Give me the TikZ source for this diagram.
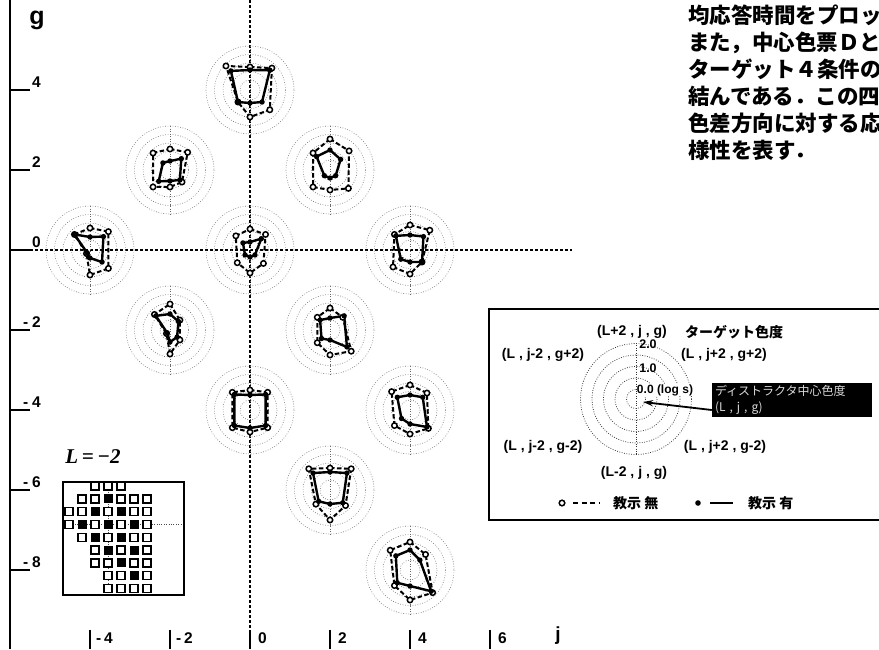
\documentclass[tikz,border=0pt]{standalone}
\usepackage{fontspec}
\setmainfont{Liberation Sans}
\newfontfamily\jp{Noto Sans CJK JP}
\newfontfamily\serifbi{Liberation Serif}
\usetikzlibrary{arrows.meta}
\makeatletter
\def\rline#1#2{\rline@i#1\relax{#2}}
\def\rline@i#1,#2,#3,#4,#5,#6\relax#7{%
  \draw[#7] (-90:#1) -- (-45:#2) -- (45:#3) -- (90:#4) -- (135:#5) -- (-135:#6) -- cycle;}
\def\rdots#1#2{\rdots@i#1\relax{#2}}
\def\rdots@i#1,#2,#3,#4,#5,#6\relax#7{%
  \foreach \a/\r in {-90/#1,-45/#2,45/#3,90/#4,135/#5,-135/#6} {\path[#7] (\a:\r) circle[radius=2.7];}}
\makeatother
\newcommand\radar[3]{%
\begin{scope}[shift={(#1)}]
  \foreach \rr in {10,18.5,27,35.5,44} \draw[ring] (0,0) circle[radius=\rr];
  \draw[ring] (0,-44) -- (0,44);
  \rline{#2}{dashpoly}
  \rline{#3}{solidpoly}
  \rdots{#2}{opendot}
  \rdots{#3}{filldot}
\end{scope}}
\begin{document}
\begin{tikzpicture}[x=1pt,y=-1pt,
  ring/.style={black!60, line width=0.6, dash pattern=on 0.7pt off 1.8pt},
  lring/.style={black!80, line width=0.75, dash pattern=on 0.8pt off 1.6pt},
  dashpoly/.style={line width=2, dash pattern=on 4.5pt off 2.5pt},
  solidpoly/.style={line width=2.4, line join=round},
  opendot/.style={draw=black, fill=white, line width=1.5},
  filldot/.style={fill=black},
  axisdot/.style={line width=1.3, dash pattern=on 2.5pt off 2.5pt},
  tick/.style={line width=2},
  axlbl/.style={font=\bfseries\fontsize{15.5}{15.5}\selectfont, inner sep=0, anchor=base west},
  lbl/.style={font=\bfseries\fontsize{14}{14}\selectfont, inner sep=0},
  jlbl/.style={font=\jp\bfseries\fontsize{14}{14}\selectfont, inner sep=0},
  para/.style={font=\jp\bfseries\fontsize{21.5}{21.5}\selectfont, inner sep=0, anchor=base west},
  sqopen/.style={draw, line width=1.4, fill=white},
  sqfill/.style={fill=black}
]
\useasboundingbox (0,0) rectangle (879,649);

% ---------- main axes ----------
\draw[line width=2] (10,0) -- (10,649);
\draw[axisdot] (250,0) -- (250,630);
\draw[axisdot] (10,250) -- (572,250);
\foreach \g in {4,2,0,-2,-4,-6,-8} \draw[tick] (10,{250-40*\g}) -- (30,{250-40*\g});
\node[font=\bfseries\fontsize{25}{25}\selectfont, inner sep=0] (glabel) at (37,20) {g};
\node[axlbl] (g4) at (32,87) {4};
\node[axlbl] (g2) at (32,167) {2};
\node[axlbl] (g0) at (32,247) {0};
\node[axlbl] (gm2) at (32,327) {\llap{-\hspace{4pt}}2};
\node[axlbl] (gm4) at (32,407) {\llap{-\hspace{4pt}}4};
\node[axlbl] (gm6) at (32,487) {\llap{-\hspace{4pt}}6};
\node[axlbl] (gm8) at (32,567) {\llap{-\hspace{4pt}}8};

\foreach \j in {-4,-2,0,2,4,6} \draw[tick] ({250+40*\j},630) -- ({250+40*\j},649);
\node[axlbl] (jm4) at (104,643) {\llap{-\hspace{3pt}}4};
\node[axlbl] (jm2) at (184,643) {\llap{-\hspace{3pt}}2};
\node[axlbl] (j0) at (258,643) {0};
\node[axlbl] (j2) at (338,643) {2};
\node[axlbl] (j4) at (418,643) {4};
\node[axlbl] (j6) at (498,643) {6};
\node[font=\bfseries\fontsize{19}{19}\selectfont, inner sep=0] (jlabel) at (558,636) {j};

% ---------- radar plots ----------
\radar{250,90}{23,31,28,27,17,34}{20,28,17,13,17,27}
\radar{170,170}{21,25,17,17,24,24}{9,16,14,11,16,10}
\radar{330,170}{31,27,26,20,24,24}{20,15,8,8,8,19}
\radar{90,250}{22,26,26,25,5,22}{13,19,17,8,4,22}
\radar{250,250}{21,22,19,23,18,20}{8,16,7,7,7,10}
\radar{410,250}{25,28,17,24,24,22}{15,19,17,12,13,20}
\radar{170,330}{26,14,14,24,5,22}{16,12,10,12,4,20}
\radar{330,330}{22,18,30,25,18,18}{12,20,24,10,12,14}
\radar{250,410}{20,25,25,22,25,25}{15,22,22,18,22,22}
\radar{410,410}{25,24,26,24,22,26}{15,18,24,14,12,18}
\radar{330,490}{22,30,22,30,20,30}{18,24,18,14,16,24}
\radar{410,570}{28,22,32,30,22,28}{20,14,30,16,18,20}

% ---------- inset L=-2 ----------
\node[font=\serifbi\bfseries\itshape\fontsize{21}{21}\selectfont, inner sep=0] (Llabel) at (93,457) {L\,=\,−2};
\draw[black!70, line width=0.6, dash pattern=on 0.8pt off 1.6pt] (108,482) -- (108,595);
\draw[black!70, line width=0.6, dash pattern=on 0.8pt off 1.6pt] (63,524) -- (184,524);
\foreach \c/\r in {3/1,4/1,5/1, 2/2,3/2,5/2,6/2,7/2, 1/3,2/3,4/3,6/3,7/3, 1/4,3/4,5/4,7/4,
  2/5,4/5,6/5,7/5, 3/6,5/6,7/6, 3/7,4/7,6/7,7/7, 4/8,5/8,7/8, 4/9,5/9,6/9,7/9}
  \draw[sqopen] ({69+13*(\c-1)-4},{486+12.8*(\r-1)-4}) rectangle +(8,8);
\foreach \c/\r in {4/2, 3/3,5/3, 2/4,4/4,6/4, 3/5,5/5, 4/6,6/6, 5/7, 6/8}
  \fill[sqfill] ({69+13*(\c-1)-4.5},{486+12.8*(\r-1)-4.5}) rectangle +(9,9);
\draw[line width=1.4] (63,482) rectangle (184,595);

% ---------- legend ----------
\draw[line width=1.5] (879,309) -- (489,309) -- (489,520) -- (879,520);
\coordinate (lc) at (636,399);
\foreach \rr in {9.5,21,32.5,44,55.5} \draw[lring] (lc) circle[radius=\rr];
\draw[lring] (636,343) -- (636,455);
\node[lbl] (lt) at (632,332) {(L+2 , j , g)};
\node[jlbl] (ltg) at (734,332) {ターゲット色度};
\node[lbl, font=\bfseries\fontsize{12.5}{12.5}\selectfont] (l20) at (648,344) {2.0};
\node[lbl] (lul) at (543,355) {(L , j-2 , g+2)};
\node[lbl] (lur) at (724,355) {(L , j+2 , g+2)};
\node[lbl, font=\bfseries\fontsize{12.5}{12.5}\selectfont] (l10) at (648,368) {1.0};
\node[lbl, font=\bfseries\fontsize{12}{12}\selectfont, fill=white, inner sep=0.5pt] (l00) at (665,390) {0.0 (log s)};
\node[lbl] (lll) at (543,447) {(L , j-2 , g-2)};
\node[lbl] (llr) at (725,447) {(L , j+2 , g-2)};
\node[lbl] (lb) at (634,473) {(L-2 , j , g)};
\node[fill=black, text=black!15, minimum width=160pt, minimum height=34pt, inner sep=2pt, align=left,
  font=\jp\fontsize{12}{16}\selectfont, text width=154pt] (bb) at (792,400)
  {ディストラクタ中心色度\\(L , j , g)};
\coordinate (tip) at (643,402);
\draw[line width=1.8, -{Stealth[length=10pt,width=6pt]}] ([yshift=-10pt]bb.west) -- (tip);

\coordinate (od) at (562,503);
\draw[opendot] (od) circle[radius=2.8];
\coordinate (dA) at (573,503);
\coordinate (dB) at (600,503);
\draw[line width=2, dash pattern=on 5pt off 3.5pt] (dA) -- (dB);
\node[jlbl, anchor=west] (nokyo) at (613,503) {教示 無};
\coordinate (fd) at (698,503);
\fill (fd) circle[radius=2.8];
\coordinate (sA) at (710,503);
\coordinate (sB) at (733,503);
\draw[line width=2.2] (sA) -- (sB);
\node[jlbl, anchor=west] (kyo) at (748,503) {教示 有};

% ---------- paragraph (cut at the right edge, as in the reference) ----------
\begin{scope}
\clip (0,0) rectangle (879,649);
\node[para] (p1) at (688,23) {均応答時間をプロット};
\node[para] (p2) at (688,50) {また，中心色票Ｄと};
\node[para] (p3) at (688,77) {ターゲット４条件の};
\node[para] (p4) at (688,104) {結んである．この四};
\node[para] (p5) at (688,131) {色差方向に対する応};
\node[para] (p6) at (688,158) {様性を表す．};
\end{scope}
\end{tikzpicture}
\end{document}
